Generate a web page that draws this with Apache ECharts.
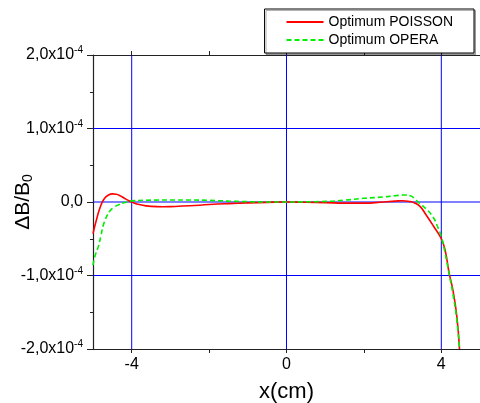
<!DOCTYPE html>
<html>
<head>
<meta charset="utf-8">
<script src="https://cdn.jsdelivr.net/npm/echarts@6/dist/echarts.min.js"></script>
<style>
  html, body { margin: 0; padding: 0; background: #fff; }
  #main { width: 480px; height: 403px; }
</style>
</head>
<body>
<div id="main"></div>
<script>
var poissonX = [-5.0, -4.9, -4.8, -4.7, -4.6, -4.5, -4.4, -4.3, -4.2, -4.1, -4.0, -3.8, -3.5, -3.2, -3.0, -2.5, -2.0, -1.5, -1.0, -0.5, 0, 0.5, 1.0, 1.5, 2.0, 2.5, 2.8, 3.0, 3.2, 3.3, 3.45, 3.6, 3.8, 4.0, 4.1, 4.2, 4.3, 4.4, 4.47];
var poissonY = [-0.43, -0.22, -0.05, 0.05, 0.095, 0.11, 0.105, 0.085, 0.055, 0.025, 0.0, -0.035, -0.06, -0.065, -0.063, -0.052, -0.035, -0.022, -0.012, -0.005, 0, -0.003, -0.008, -0.015, -0.015, 0.0, 0.012, 0.018, 0.005, -0.01, -0.06, -0.17, -0.33, -0.5, -0.66, -0.96, -1.2, -1.55, -2.0];

var operaX = [-5.0, -4.95, -4.86, -4.8, -4.73, -4.65, -4.56, -4.45, -4.35, -4.2, -4.0, -3.5, -3.0, -2.5, -2.0, -1.5, -1.0, -0.5, 0, 0.5, 1.0, 1.5, 2.0, 2.5, 2.8, 3.05, 3.2, 3.3, 3.44, 3.6, 3.78, 3.9, 4.0, 4.1, 4.21, 4.3, 4.4, 4.47];
var operaY = [-0.86, -0.74, -0.6, -0.47, -0.31, -0.2, -0.12, -0.07, -0.04, -0.01, 0.015, 0.025, 0.027, 0.027, 0.022, 0.012, 0.005, 0.0, 0, 0.003, 0.008, 0.025, 0.05, 0.068, 0.085, 0.095, 0.085, 0.05, -0.02, -0.09, -0.2, -0.33, -0.47, -0.7, -1.0, -1.25, -1.6, -2.0];

var xTicks = [-4, -2, 0, 2, 4];
var xLabels = [-4, 0, 4];
var gridX = [-4, 0, 4];
var gridY = [-1, 0, 1];
var seriesNames = ['Optimum POISSON', 'Optimum OPERA'];
var xRange = [-5, 5];
var yRange = [-2, 2];

function pairs(xs, ys) {
    var out = [];
    for (var i = 0; i < xs.length; i++) out.push([xs[i], ys[i]]);
    return out;
}

// lignes de grille bleues, comme des series
var blueLine = { color: '#0000ff', type: 'solid', width: 1 };
var gridSeries = [];
gridX.forEach(function (v) {
    gridSeries.push({
        type: 'line', silent: true, symbol: 'none', z: 1,
        data: [[v, yRange[0]], [v, yRange[1]]],
        lineStyle: blueLine
    });
});
gridY.forEach(function (v) {
    gridSeries.push({
        type: 'line', silent: true, symbol: 'none', z: 1,
        data: [[xRange[0], v], [xRange[1], v]],
        lineStyle: blueLine
    });
});

var font = 'Liberation Sans, Arial, sans-serif';
var axisCol = '#222';

var chart = echarts.init(document.getElementById('main'));
chart.setOption({
    animation: false,
    backgroundColor: '#fff',
    grid: { left: 93, right: 0, top: 55, bottom: 54, containLabel: false, outerBoundsMode: 'none' },
    legend: {
        data: seriesNames,
        orient: 'vertical',
        right: 6,
        top: 9,
        width: 168,
        padding: [6, 21, 6, 21],
        itemGap: 4,
        itemWidth: 37,
        itemHeight: 14,
        borderColor: '#000',
        borderWidth: 1,
        backgroundColor: '#fff',
        shadowColor: 'rgba(0,0,0,0.3)',
        shadowOffsetX: 1.5,
        shadowOffsetY: 1.5,
        itemStyle: { opacity: 0 },
        textStyle: { fontFamily: font, fontSize: 14, color: '#000' }
    },
    xAxis: [{
        type: 'value',
        min: xRange[0], max: xRange[1],
        name: 'x(cm)',
        nameLocation: 'middle',
        nameGap: 32,
        nameTextStyle: { fontFamily: font, fontSize: 22, color: '#000' },
        axisLine: { onZero: false, lineStyle: { color: axisCol, width: 1.2 } },
        axisTick: { show: true, customValues: xTicks, length: 4, lineStyle: { color: axisCol } },
        axisLabel: { customValues: xLabels, margin: 8, fontFamily: font, fontSize: 16, color: '#000' },
        splitLine: { show: false }
    }, {
        type: 'value',
        position: 'top',
        min: xRange[0], max: xRange[1],
        axisLine: { onZero: false, lineStyle: { color: axisCol, width: 1.2 } },
        axisTick: { show: true, customValues: xTicks, length: 4, lineStyle: { color: axisCol } },
        axisLabel: { show: false },
        splitLine: { show: false }
    }],
    yAxis: {
        type: 'value',
        min: yRange[0], max: yRange[1], interval: 1,
        name: '{a|\u0394B/B}{s|0}',
        nameLocation: 'middle',
        nameRotate: 90,
        nameGap: 58,
        nameMoveOverlap: false,
        nameTextStyle: {
            rich: {
                a: { fontFamily: font, fontSize: 21, color: '#000' },
                s: { fontFamily: font, fontSize: 14, color: '#000', padding: [10, 0, 0, 0] }
            }
        },
        axisLine: { show: true, onZero: false, lineStyle: { color: axisCol, width: 1.2 } },
        axisTick: { show: true, length: 6, lineStyle: { color: axisCol } },
        minorTick: { show: true, splitNumber: 2, length: 3, lineStyle: { color: axisCol } },
        axisLabel: {
            margin: 10,
            formatter: function (v) {
                if (v === 0) return '{a|0,0}';
                return '{a|' + v.toFixed(1).replace('.', ',') + 'x10}{s|-4}';
            },
            rich: {
                a: { fontFamily: font, fontSize: 16, color: '#000' },
                s: { fontFamily: font, fontSize: 10, color: '#000', padding: [0, 0, 9, 0] }
            }
        },
        splitLine: { show: false }
    },
    series: gridSeries.concat([{
        name: seriesNames[0],
        type: 'line',
        data: pairs(poissonX, poissonY),
        smooth: true,
        showSymbol: false,
        symbol: 'none',
        clip: true,
        z: 3,
        lineStyle: { color: '#ff0000', width: 1.6 },
        itemStyle: { color: '#ff0000' }
    }, {
        name: seriesNames[1],
        type: 'line',
        data: pairs(operaX, operaY),
        smooth: true,
        showSymbol: false,
        symbol: 'none',
        clip: true,
        z: 4,
        lineStyle: { color: '#00ee00', width: 1.6, type: [5, 3] },
        itemStyle: { color: '#00ee00' }
    }])
});
</script>
</body>
</html>
